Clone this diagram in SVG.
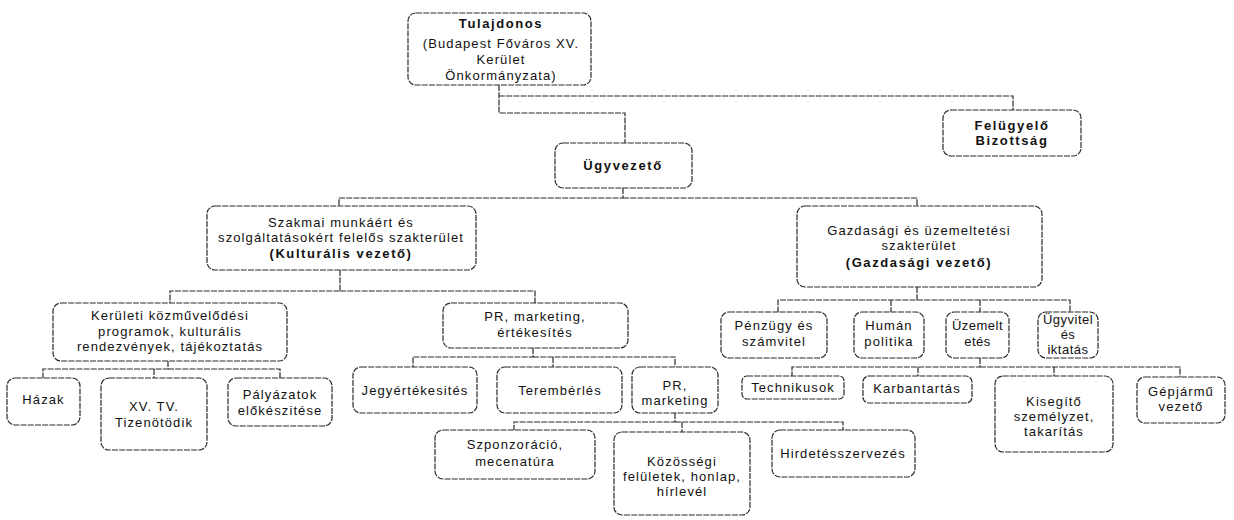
<svg xmlns="http://www.w3.org/2000/svg" width="1234" height="520" viewBox="0 0 1234 520">
<style>
.bx{fill:#fff;stroke:#2a2a2a;stroke-width:1.2;stroke-dasharray:6 1.2}
.cn{fill:none;stroke:#2a2a2a;stroke-width:1.2;stroke-dasharray:6 1.2}
text{font-family:"Liberation Sans",Arial,sans-serif;font-size:13px;letter-spacing:1.1px;fill:#111;text-anchor:middle}
.bd{font-weight:bold;letter-spacing:1.6px}
.tight{letter-spacing:0.5px}
</style>
<rect width="1234" height="520" fill="#fff"/>
<g id="connectors">
<path class="cn" d="M499,85 V113 H625 V143"/>
<path class="cn" d="M499,96 H1013 V110"/>
<path class="cn" d="M623,188 V198 H339 V206"/>
<path class="cn" d="M623,198 H917 V206"/>
<path class="cn" d="M340,270 V291 H170 V303"/>
<path class="cn" d="M340,291 H535 V303"/>
<path class="cn" d="M168,361 V369 H43 V378"/>
<path class="cn" d="M168,369 H280 V378"/>
<path class="cn" d="M154,369 V378"/>
<path class="cn" d="M533,348 V357 H413 V367"/>
<path class="cn" d="M533,357 H675 V367"/>
<path class="cn" d="M553,357 V367"/>
<path class="cn" d="M675,413 V422 H514 V430"/>
<path class="cn" d="M675,422 H843 V430"/>
<path class="cn" d="M682,422 V432"/>
<path class="cn" d="M917,287 V300 H778 V312"/>
<path class="cn" d="M917,300 H1070 V312"/>
<path class="cn" d="M891,300 V312"/>
<path class="cn" d="M980,300 V312"/>
<path class="cn" d="M980,358 V367 H792 V376"/>
<path class="cn" d="M980,367 H1180 V377"/>
<path class="cn" d="M918,367 V376"/>
<path class="cn" d="M1054,367 V376"/>
</g>
<g id="tulajdonos">
<rect class="bx" x="408" y="13" width="183" height="72" rx="8"/>
<text class="bd" x="501" y="28">Tulajdonos</text>
<text x="501" y="48">(Budapest Főváros XV.</text>
<text x="501" y="64">Kerület</text>
<text x="501" y="80">Önkormányzata)</text>
</g>
<g id="felugyelo">
<rect class="bx" x="943" y="110" width="138" height="46" rx="8"/>
<text class="bd" x="1012" y="130">Felügyelő</text>
<text class="bd" x="1012" y="145">Bizottság</text>
</g>
<g id="ugyvezeto">
<rect class="bx" x="555" y="143" width="137" height="45" rx="8"/>
<text class="bd" x="623" y="170">Ügyvezető</text>
</g>
<g id="szakmai">
<rect class="bx" x="207" y="206" width="269" height="64" rx="8"/>
<text x="341" y="227">Szakmai munkáért és</text>
<text x="341" y="242">szolgáltatásokért felelős szakterület</text>
<text class="bd" x="341" y="258">(Kulturális vezető)</text>
</g>
<g id="gazdasagi">
<rect class="bx" x="797" y="206" width="245" height="81" rx="8"/>
<text x="919" y="235">Gazdasági és üzemeltetési</text>
<text x="919" y="250">szakterület</text>
<text class="bd" x="919" y="267">(Gazdasági vezető)</text>
</g>
<g id="keruleti">
<rect class="bx" x="53" y="303" width="234" height="58" rx="8"/>
<text x="170" y="320">Kerületi közművelődési</text>
<text x="170" y="336">programok, kulturális</text>
<text x="170" y="351">rendezvények, tájékoztatás</text>
</g>
<g id="pr-ertekesites">
<rect class="bx" x="443" y="303" width="185" height="45" rx="8"/>
<text x="535" y="321">PR, marketing,</text>
<text x="535" y="337">értékesítés</text>
</g>
<g id="penzugy">
<rect class="bx" x="721" y="312" width="106" height="46" rx="8"/>
<text x="774" y="330">Pénzügy és</text>
<text x="774" y="346">számvitel</text>
</g>
<g id="human">
<rect class="bx" x="854" y="312" width="70" height="46" rx="8"/>
<text x="889" y="330">Humán</text>
<text x="889" y="346">politika</text>
</g>
<g id="uzemeltetes">
<rect class="bx" x="946" y="312" width="63" height="46" rx="8"/>
<text class="tight" x="977.5" y="330">Üzemelt</text>
<text class="tight" x="977.5" y="346">etés</text>
</g>
<g id="ugyvitel">
<rect class="bx" x="1038" y="312" width="60" height="46" rx="8"/>
<text class="tight" x="1068" y="324">Ügyvitel</text>
<text class="tight" x="1068" y="339">és</text>
<text class="tight" x="1068" y="354">iktatás</text>
</g>
<g id="hazak">
<rect class="bx" x="7" y="378" width="73" height="47" rx="8"/>
<text x="43.5" y="404">Házak</text>
</g>
<g id="xvtv">
<rect class="bx" x="101" y="378" width="106" height="72" rx="8"/>
<text x="154" y="411">XV. TV.</text>
<text x="154" y="427">Tizenötödik</text>
</g>
<g id="palyazatok">
<rect class="bx" x="228" y="378" width="104" height="48" rx="8"/>
<text x="280" y="399">Pályázatok</text>
<text x="280" y="415">előkészitése</text>
</g>
<g id="jegyertekesites">
<rect class="bx" x="353" y="367" width="124" height="46" rx="8"/>
<text x="415" y="395">Jegyértékesités</text>
</g>
<g id="terember">
<rect class="bx" x="497" y="367" width="125" height="46" rx="8"/>
<text x="560" y="395">Terembérlés</text>
</g>
<g id="pr-marketing">
<rect class="bx" x="632" y="367" width="86" height="46" rx="8"/>
<text x="675" y="390">PR,</text>
<text x="675" y="405">marketing</text>
</g>
<g id="technikusok">
<rect class="bx" x="742" y="376" width="102" height="23" rx="5"/>
<text x="793" y="392">Technikusok</text>
</g>
<g id="karbantartas">
<rect class="bx" x="863" y="376" width="109" height="27" rx="6"/>
<text x="917" y="393">Karbantartás</text>
</g>
<g id="kisegito">
<rect class="bx" x="995" y="376" width="118" height="76" rx="8"/>
<text x="1054" y="406">Kisegítő</text>
<text x="1054" y="421">személyzet,</text>
<text x="1054" y="436">takarítás</text>
</g>
<g id="gepjarmu">
<rect class="bx" x="1137" y="377" width="88" height="46" rx="8"/>
<text x="1181" y="396">Gépjármű</text>
<text x="1181" y="411">vezető</text>
</g>
<g id="szponzoracio">
<rect class="bx" x="435" y="430" width="160" height="49" rx="8"/>
<text x="515" y="449">Szponzoráció,</text>
<text x="515" y="466">mecenatúra</text>
</g>
<g id="kozossegi">
<rect class="bx" x="614" y="432" width="136" height="83" rx="8"/>
<text x="682" y="466">Közösségi</text>
<text x="682" y="481">felületek, honlap,</text>
<text x="682" y="496">hírlevél</text>
</g>
<g id="hirdetes">
<rect class="bx" x="772" y="430" width="143" height="47" rx="8"/>
<text x="843" y="458">Hirdetésszervezés</text>
</g>
</svg>
